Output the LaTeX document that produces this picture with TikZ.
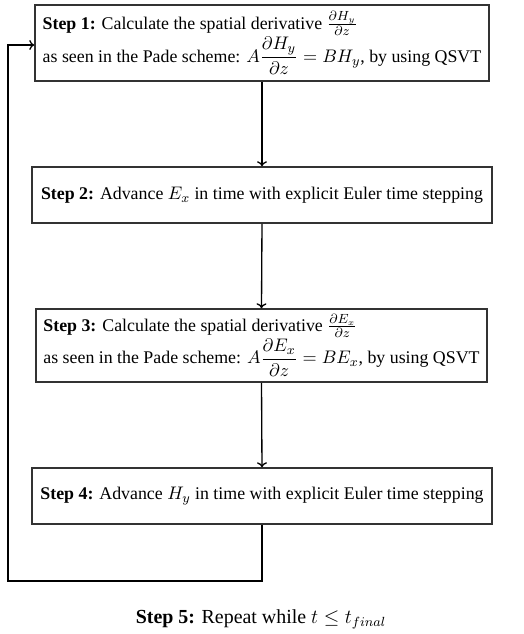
\documentclass[tikz,border=0pt]{standalone}
\usepackage{amsmath}
\usepackage{fontspec}
\setmainfont{Liberation Serif}
\usetikzlibrary{arrows.meta}
\begin{document}
\begin{tikzpicture}[x=0.6024pt,y=-0.6024pt,
  stepbox/.style={draw=black!80, line width=0.9pt, inner sep=3pt, align=left, font=\fontsize{10.75}{12.9}\selectfont},
  flow/.style={line width=0.8pt, -{To[length=3pt,width=6pt]}}]
\useasboundingbox (0,0) rectangle (524,634);
\node[stepbox, minimum width=454*0.6024pt, minimum height=76*0.6024pt] (s1) at (262,43)
  {\textbf{Step 1:} Calculate the spatial derivative $\frac{\partial H_y}{\partial z}$\\[0pt]
   as seen in the Pade scheme: $A\dfrac{\partial H_y}{\partial z} = BH_y$, by using QSVT};
\node[stepbox, minimum width=460*0.6024pt, minimum height=56*0.6024pt] (s2) at (262,195)
  {\textbf{Step 2:} Advance $E_x$ in time with explicit Euler time stepping};
\node[stepbox, minimum width=451*0.6024pt, minimum height=73*0.6024pt] (s3) at (261.5,345.5)
  {\textbf{Step 3:} Calculate the spatial derivative $\frac{\partial E_x}{\partial z}$\\[0pt]
   as seen in the Pade scheme: $A\dfrac{\partial E_x}{\partial z} = BE_x$, by using QSVT};
\node[stepbox, minimum width=460*0.6024pt, minimum height=56*0.6024pt] (s4) at (262,496)
  {\textbf{Step 4:} Advance $H_y$ in time with explicit Euler time stepping};
\node[font=\fontsize{12}{14.4}\selectfont] (s5) at (261,619) {\textbf{Step 5:} Repeat while $t \leq t_{final}$};
\coordinate (c1) at (262,581);
\coordinate (c2) at (8,581);
\coordinate (c3) at (8,45);
\draw[flow] (s1.south) -- (s2.north);
\draw[flow] (s2.south) -- (s3.north);
\draw[flow] (s3.south) -- (s4.north);
\draw[flow] (s4.south) -- (c1) -- (c2) -- (c3) -- (s1.west |- c3);
\end{tikzpicture}
\end{document}
